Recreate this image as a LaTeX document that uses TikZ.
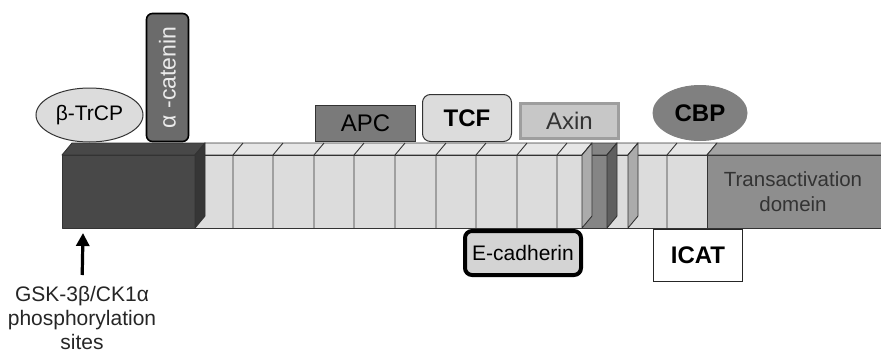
\documentclass[tikz,border=0pt]{standalone}
\usepackage{fontspec}
\setmainfont{Liberation Sans}
\usetikzlibrary{shapes.geometric,arrows.meta}

\definecolor{darkfront}{HTML}{484848}
\definecolor{darkside}{HTML}{363636}
\definecolor{lightfront}{HTML}{DCDCDC}
\definecolor{lighttop}{HTML}{E6E6E6}
\definecolor{lightside}{HTML}{ABABAB}
\definecolor{midfront}{HTML}{858585}
\definecolor{midside}{HTML}{5F5F5F}
\definecolor{tadfront}{HTML}{8E8E8E}
\definecolor{tadtop}{HTML}{A3A3A3}
\definecolor{edge}{HTML}{333333}

\tikzset{
  face/.style={draw=edge, line width=0.9pt, line join=round},
  partner/.style={draw=edge, line width=1pt, inner sep=0pt, align=center,
    font=\fontsize{24}{28}\selectfont},
  phosarrow/.style={-{Triangle[width=13pt,length=13pt]}, line width=3.2pt},
}

\begin{document}
\begin{tikzpicture}[x=1pt,y=-1pt]
  \useasboundingbox (0,0) rectangle (881,354);
  \def\bartop{143}
  \def\fronttop{155}
  \def\barbot{228}

  % top faces and fronts of the pieces
  \foreach \xa/\xb/\cf/\ct in {62/195/darkfront/darkfront, 195/582/lightfront/lighttop,
      582/607/midfront/midfront, 607/628/lightfront/lighttop, 628/707/lightfront/lighttop} {
    \filldraw[face, fill=\ct] (\xa,\fronttop) -- ++(10,-12) -- (\xb+10,\bartop) -- (\xb,\fronttop) -- cycle;
    \filldraw[face, fill=\cf] (\xa,\fronttop) rectangle (\xb,\barbot);
  }
  \filldraw[face, fill=tadtop] (707,\fronttop) -- (717,\bartop) -- (882,\bartop) -- (882,\fronttop) -- cycle;
  \filldraw[face, fill=tadfront] (707,\fronttop) rectangle (882,\barbot);

  % repeats
  \foreach \x in {233,273,314,354,395,436,476,517,557,667} {
    \draw[face] (\x,\barbot) -- (\x,\fronttop) -- ++(10,-12);
  }

  % side faces
  \foreach \x/\cs in {195/darkside, 582/lightside, 607/midside, 628/lightside} {
    \filldraw[face, fill=\cs] (\x,\fronttop) -- ++(10,-12) -- ++(0,73) -- (\x,\barbot) -- cycle;
  }

  \node[font=\fontsize{20.5}{25}\selectfont, text=edge, align=center] (tad) at (793,192)
    {Transactivation\\domein};

  % binding partners
  \node[partner, ellipse, fill=lightfront, minimum width=107pt, minimum height=54pt,
    font=\fontsize{21}{25}\selectfont] (trcp) at (89.5,115) {β-TrCP};
  \node[partner, rounded corners=6pt, rotate=90, fill=black!58, draw=black, line width=1.6pt,
    text=white!92!black, minimum width=128pt, minimum height=42pt,
    font=\fontsize{23}{27}\selectfont] (acat) at (167.5,77.5) {α -catenin};
  \node[partner, fill=black!52, minimum width=100pt, minimum height=36pt] (apc) at (365.5,123.5) {APC};
  \node[partner, fill=lightfront, rounded corners=8pt, minimum width=89pt, minimum height=47pt,
    font=\bfseries\fontsize{24}{28}\selectfont] (tcf) at (467,118) {TCF};
  \node[partner, fill=black!22, draw=black!38, line width=3pt, text=edge,
    minimum width=98pt, minimum height=35pt] (axin) at (569.5,121) {Axin};
  \node[partner, ellipse, fill=black!50, draw=black!50, minimum width=94pt, minimum height=55pt,
    font=\bfseries\fontsize{24}{28}\selectfont] (cbp) at (700,113) {CBP};
  \node[partner, fill=black!17, draw=black, line width=4pt, rounded corners=7pt,
    minimum width=116pt, minimum height=44pt, font=\fontsize{21}{25}\selectfont]
    (ecad) at (523,253) {E-cadherin};
  \node[partner, fill=white, draw=black!85, line width=1.5pt, minimum width=89pt, minimum height=52pt,
    font=\bfseries\fontsize{24}{28}\selectfont] (icat) at (698,255.5) {ICAT};

  % phosphorylation sites
  \coordinate (site) at (83,233);
  \node[anchor=north, inner sep=0pt, align=center, text=black!85,
    font=\fontsize{21}{24}\selectfont] (gsk) at (82,286)
    {GSK-3β/CK1α\\phosphorylation\\sites};
  \draw[phosarrow, shorten <=11pt] (gsk.north) -- (site);
\end{tikzpicture}
\end{document}
